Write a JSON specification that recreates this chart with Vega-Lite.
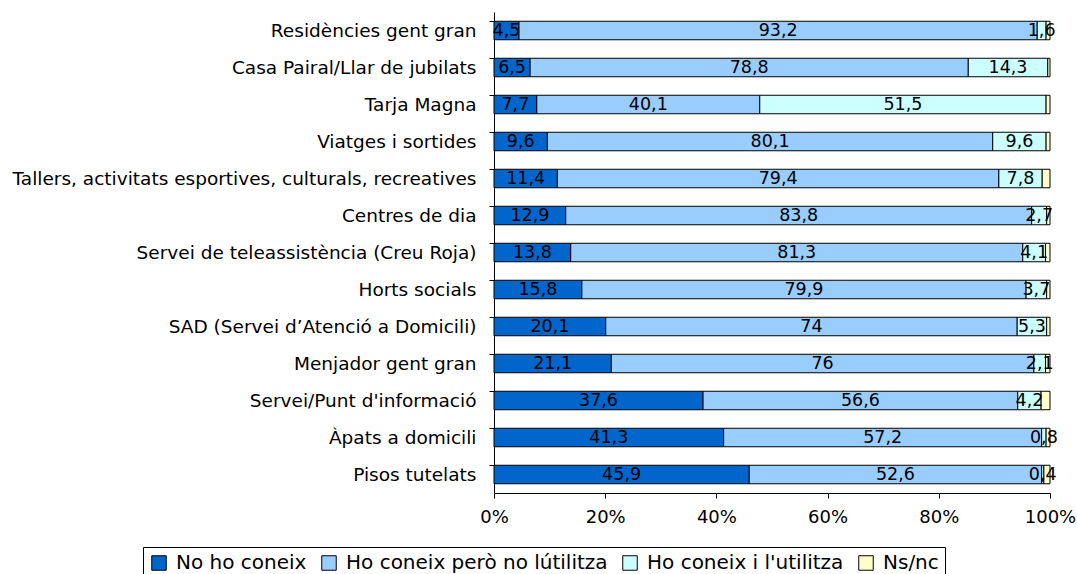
{
  "$schema": "https://vega.github.io/schema/vega-lite/v6.json",
  "width": 556,
  "height": 481,
  "autosize": "none",
  "padding": {"left": 494, "top": 12, "right": 27, "bottom": 81},
  "background": "white",
  "config": {
    "view": {"stroke": null},
    "font": "DejaVu Sans",
    "locale": {"number": {"decimal": ",", "thousands": ".", "grouping": [3], "currency": ["", "€"]}}
  },
  "data": {"values": [
    {"service": "Residències gent gran", "no": 4.5, "knownotuse": 93.2, "knowuse": 1.6, "nsnc": 0.7},
    {"service": "Casa Pairal/Llar de jubilats", "no": 6.5, "knownotuse": 78.8, "knowuse": 14.3, "nsnc": 0.4},
    {"service": "Tarja Magna", "no": 7.7, "knownotuse": 40.1, "knowuse": 51.5, "nsnc": 0.7},
    {"service": "Viatges i sortides", "no": 9.6, "knownotuse": 80.1, "knowuse": 9.6, "nsnc": 0.7},
    {"service": "Tallers, activitats esportives, culturals, recreatives", "no": 11.4, "knownotuse": 79.4, "knowuse": 7.8, "nsnc": 1.4},
    {"service": "Centres de dia", "no": 12.9, "knownotuse": 83.8, "knowuse": 2.7, "nsnc": 0.6},
    {"service": "Servei de teleassistència (Creu Roja)", "no": 13.8, "knownotuse": 81.3, "knowuse": 4.1, "nsnc": 0.8},
    {"service": "Horts socials", "no": 15.8, "knownotuse": 79.9, "knowuse": 3.7, "nsnc": 0.6},
    {"service": "SAD (Servei d’Atenció a Domicili)", "no": 20.1, "knownotuse": 74, "knowuse": 5.3, "nsnc": 0.6},
    {"service": "Menjador gent gran", "no": 21.1, "knownotuse": 76, "knowuse": 2.1, "nsnc": 0.8},
    {"service": "Servei/Punt d'informació", "no": 37.6, "knownotuse": 56.6, "knowuse": 4.2, "nsnc": 1.6},
    {"service": "Àpats a domicili", "no": 41.3, "knownotuse": 57.2, "knowuse": 0.8, "nsnc": 0.7},
    {"service": "Pisos tutelats", "no": 45.9, "knownotuse": 52.6, "knowuse": 0.4, "nsnc": 1.1}
  ]},
  "transform": [
    {"window": [{"op": "row_number", "as": "srow"}]},
    {"fold": ["no", "knownotuse", "knowuse", "nsnc"], "as": ["cat", "value"]},
    {"window": [{"op": "row_number", "as": "k"}], "groupby": ["service"]},
    {"stack": "value", "groupby": ["service"], "sort": [{"field": "k"}], "offset": "normalize", "as": ["x0", "x1"]},
    {"calculate": "(datum.x0 + datum.x1) / 2", "as": "xm"}
  ],
  "encoding": {
    "y": {
      "field": "service", "type": "nominal",
      "sort": {"field": "srow", "op": "min"},
      "scale": {"paddingInner": 0.5, "paddingOuter": 0.25},
      "axis": {"title": null, "labelFontSize": 18.5, "labelColor": "black", "labelFont": "DejaVu Sans", "labelPadding": 13, "domainColor": "black", "tickColor": "black", "tickSize": 5, "bandPosition": 0, "labelLimit": 600}
    }
  },
  "layer": [
    {
      "mark": {"type": "bar", "stroke": "black", "strokeWidth": 1},
      "encoding": {
        "x": {"field": "x0", "type": "quantitative", "scale": {"domain": [0, 1]},
          "axis": {"title": null, "format": ".0%", "values": [0, 0.2, 0.4, 0.6, 0.8, 1], "grid": false, "labelFontSize": 18, "labelColor": "black", "domainColor": "black", "tickColor": "black", "tickSize": 5, "labelPadding": 10, "labelFlush": false}},
        "x2": {"field": "x1"},
        "color": {
          "field": "cat", "type": "nominal",
          "scale": {"domain": ["no", "knownotuse", "knowuse", "nsnc"], "range": ["#0066CC", "#99CCFF", "#CCFFFF", "#FFFFCC"]},
          "legend": {"title": null, "orient": "none", "legendX": -351, "legendY": 535, "direction": "horizontal", "columns": 4, "symbolType": "square", "symbolSize": 210, "symbolStrokeColor": "black", "symbolStrokeWidth": 1, "labelFontSize": 20, "labelColor": "black", "columnPadding": 12, "labelOffset": 7, "strokeColor": "black", "padding": 6, "labelLimit": 400,
            "labelExpr": "datum.value === 'no' ? 'No ho coneix' : datum.value === 'knownotuse' ? 'Ho coneix però no lútilitza' : datum.value === 'knowuse' ? \"Ho coneix i l'utilitza\" : 'Ns/nc'"}
        }
      }
    },
    {
      "transform": [{"filter": "datum.cat !== 'nsnc'"}],
      "mark": {"type": "text", "fontSize": 17.5, "color": "black", "align": "center", "baseline": "middle", "font": "DejaVu Sans"},
      "encoding": {
        "x": {"field": "xm", "type": "quantitative"},
        "text": {"field": "value", "type": "quantitative", "format": ".1~f"}
      }
    }
  ]
}
